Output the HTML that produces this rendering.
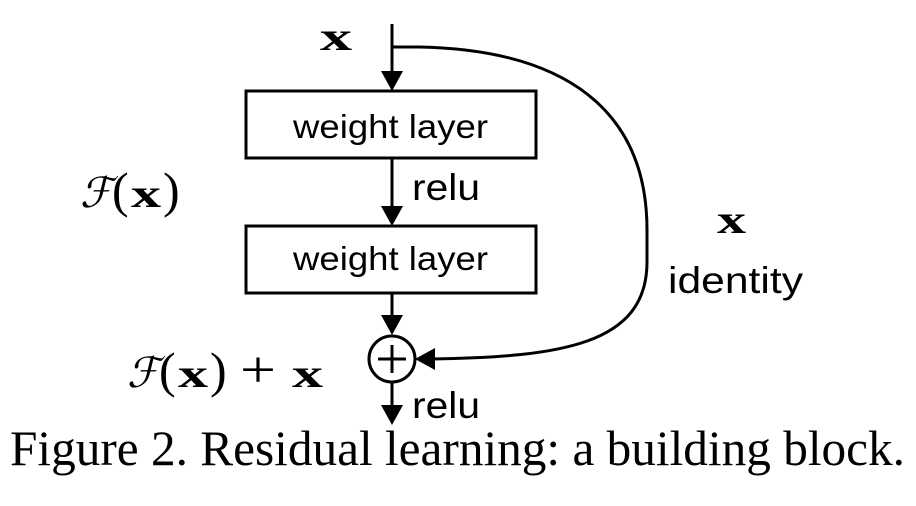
<!DOCTYPE html>
<html><head><meta charset="utf-8"><style>
html,body{margin:0;padding:0;background:#fff;width:916px;height:506px;overflow:hidden}
svg{display:block}
.s{font-family:"Liberation Sans",sans-serif;fill:#000}
.m{font-family:"Liberation Serif",serif;fill:#000}
</style></head><body>
<svg width="916" height="506" viewBox="0 0 916 506" xmlns="http://www.w3.org/2000/svg">
<g stroke="#000" stroke-width="3" fill="none">
<line x1="392" y1="24" x2="392" y2="74"/>
<rect x="246" y="91" width="290" height="67"/>
<line x1="392" y1="158" x2="392" y2="209"/>
<rect x="246" y="226" width="290" height="67"/>
<line x1="392" y1="293" x2="392" y2="318"/>
<circle cx="392" cy="359" r="23"/>
<line x1="392" y1="382" x2="392" y2="408"/>
<line x1="378" y1="359" x2="406" y2="359"/>
<line x1="392" y1="345" x2="392" y2="373"/>
<path d="M392,47 L420,47 C565,50 647,110 647,230 L647,262 C647,345 560,357 432,359"/>
</g>
<g fill="#000">
<polygon points="381,71 403,71 392,91"/>
<polygon points="381,206 403,206 392,226"/>
<polygon points="381,315 403,315 392,335"/>
<polygon points="381,405 403,405 392,425"/>
<polygon points="435,348 435,370 415,359"/>
</g>
<text class="s" x="293" y="138" style="font-size:33px" textLength="195" lengthAdjust="spacingAndGlyphs">weight layer</text>
<text class="s" x="293" y="270" style="font-size:33px" textLength="195" lengthAdjust="spacingAndGlyphs">weight layer</text>
<text class="s" x="412" y="200" style="font-size:37px" textLength="68" lengthAdjust="spacingAndGlyphs">relu</text>
<text class="s" x="412" y="418" style="font-size:37px" textLength="68" lengthAdjust="spacingAndGlyphs">relu</text>
<text class="s" x="668" y="293" style="font-size:37px" textLength="135" lengthAdjust="spacingAndGlyphs">identity</text>
<text class="m" x="320" y="50" style="font-size:40px;font-weight:bold" textLength="32" lengthAdjust="spacingAndGlyphs">x</text>
<text class="m" x="717" y="233" style="font-size:40px;font-weight:bold" textLength="29" lengthAdjust="spacingAndGlyphs">x</text>

<text class="m" x="80" y="207" style="font-size:42px;font-style:italic" textLength="32" lengthAdjust="spacingAndGlyphs">ℱ</text>
<text class="m" x="112" y="207" style="font-size:50px">(</text>
<text class="m" x="131" y="207" style="font-size:40px;font-weight:bold" textLength="30" lengthAdjust="spacingAndGlyphs">x</text>
<text class="m" x="163" y="207" style="font-size:50px">)</text>

<text class="m" x="127" y="387" style="font-size:42px;font-style:italic" textLength="32" lengthAdjust="spacingAndGlyphs">ℱ</text>
<text class="m" x="159" y="387" style="font-size:50px">(</text>
<text class="m" x="178" y="387" style="font-size:40px;font-weight:bold" textLength="30" lengthAdjust="spacingAndGlyphs">x</text>
<text class="m" x="210" y="387" style="font-size:50px">)</text>
<text class="m" x="240" y="387" style="font-size:52px" textLength="36" lengthAdjust="spacingAndGlyphs">+</text>
<text class="m" x="292" y="387" style="font-size:40px;font-weight:bold" textLength="31" lengthAdjust="spacingAndGlyphs">x</text>

<text class="m" x="10" y="465" style="font-size:50px" textLength="895" lengthAdjust="spacingAndGlyphs">Figure 2. Residual learning: a building block.</text>
</svg>
</body></html>
